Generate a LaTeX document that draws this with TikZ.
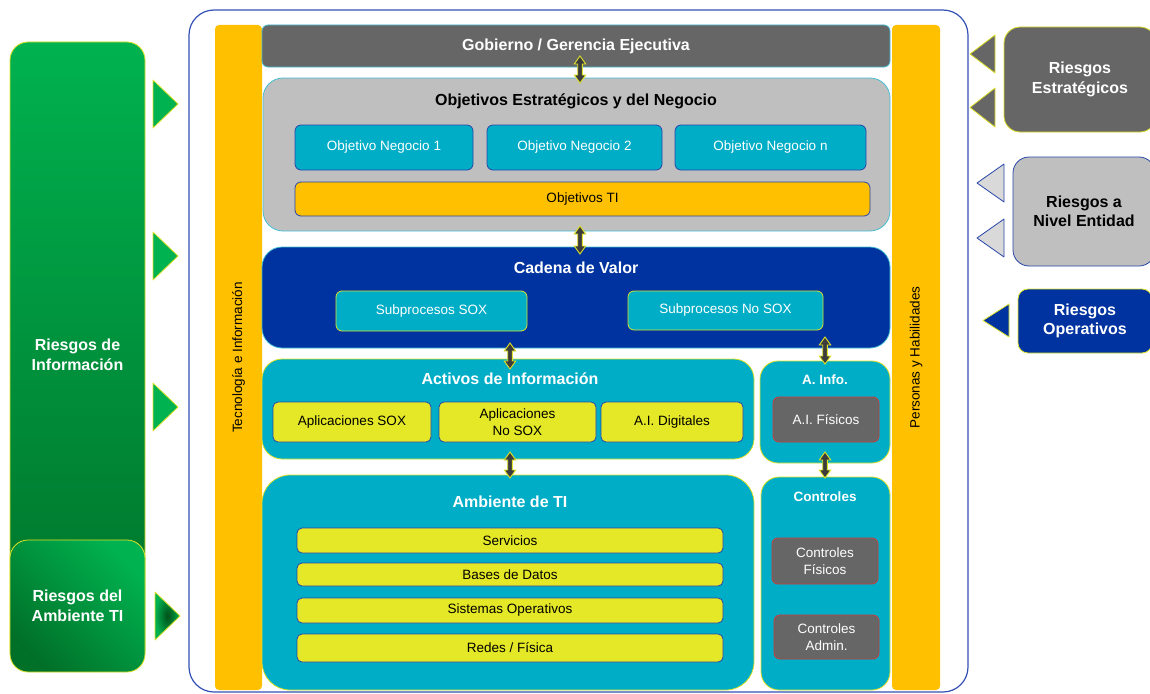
\documentclass[tikz,border=0pt]{standalone}
\usepackage{fontspec}
\setmainfont{Liberation Sans}
\usetikzlibrary{calc}

\definecolor{cTeal}{RGB}{0,173,198}
\definecolor{cNavy}{RGB}{0,51,160}
\definecolor{cGray}{RGB}{102,102,102}
\definecolor{cLight}{RGB}{191,191,191}
\definecolor{cLighter}{RGB}{217,217,217}
\definecolor{cGold}{RGB}{255,192,0}
\definecolor{cLime}{RGB}{228,232,38}
\definecolor{cEdgeY}{RGB}{222,226,40}
\definecolor{cEdgeB}{RGB}{40,70,170}
\definecolor{cEdgeT}{RGB}{70,190,210}
\definecolor{cEdgeR}{RGB}{200,60,60}
\definecolor{cFrame}{RGB}{50,80,180}
\definecolor{cGreen}{RGB}{0,178,80}
\definecolor{cGreenDk}{RGB}{0,112,40}
\definecolor{cGreenDeep}{RGB}{0,80,25}
\definecolor{cArrow}{RGB}{60,60,60}

\newcommand{\fT}{\fontsize{16}{19.5}\selectfont\bfseries}
\newcommand{\fS}{\fontsize{13.5}{16.5}\selectfont}
\newcommand{\fSB}{\fontsize{13.5}{16.5}\selectfont\bfseries}

\tikzset{
  base/.style={outer sep=0pt, inner sep=0pt, align=center},
  sz/.style 2 args={minimum width=#1pt, minimum height=#2pt},
  bar/.style={base, fill=cGold, rounded corners=4pt},
  panel/.style={base, line width=0.8pt, rounded corners=#1},
  tealpanel/.style={panel=#1, fill=cTeal, draw=cEdgeY},
  objbox/.style={base, fill=cTeal, draw=cEdgeB, line width=0.8pt, rounded corners=6pt, text=white, font=\fS},
  subbox/.style={base, fill=cTeal, draw=cEdgeY, line width=0.8pt, rounded corners=6pt, text=white, font=\fS},
  limebox/.style={base, fill=cLime, draw=cEdgeB, line width=0.8pt, rounded corners=5pt, text=black, font=\fS},
  graybox/.style={base, fill=cGray, draw=cEdgeR, line width=0.8pt, rounded corners=6pt, text=white, font=\fS},
  titletxt/.style={base, text=white, font=\fT},
  riskbox/.style={base, line width=0.8pt, rounded corners=16pt, font=\fT},
  greenbox/.style={base, line width=0.8pt, rounded corners=18pt, draw=cEdgeY, text=white, font=\fT},
  gtri/.style={fill=cGreen, draw=cEdgeY, line width=0.8pt, line join=round},
  % vertical two-headed block arrow from the upper point to the lower one
  biarrow/.style={fill=cArrow, draw=cEdgeY, line width=0.9pt, line join=miter,
    to path={let \p1=(\tikztostart), \p2=(\tikztotarget) in
      (\x1,\y1) -- (\x1+5.75pt,\y1-8pt) -- (\x1+2.3pt,\y1-8pt) -- (\x1+2.3pt,\y2+8pt)
      -- (\x1+5.75pt,\y2+8pt) -- (\x1,\y2) -- (\x1-5.75pt,\y2+8pt) -- (\x1-2.3pt,\y2+8pt)
      -- (\x1-2.3pt,\y1-8pt) -- (\x1-5.75pt,\y1-8pt) -- cycle}}
}

\begin{document}
\begin{tikzpicture}[x=1pt,y=-1pt]
\useasboundingbox (0,0) rectangle (1150,693);

% ---------- left: information risks ----------
\node[greenbox, sz={135}{626}, top color=cGreen, bottom color=cGreenDk] (rinfo) at (77.5,355) {Riesgos de\\Información};
\node[greenbox, sz={135}{132}, left color=cGreenDk, right color=cGreen, shading angle=135] (ramb) at (77.5,606) {Riesgos del\\Ambiente TI};

\draw[gtri] (153,80) -- (178,104) -- (153,128) -- cycle;
\draw[gtri] (153,232) -- (178,256) -- (153,280) -- cycle;
\draw[gtri] (153,383) -- (178,407) -- (153,431) -- cycle;
\draw[gtri, inner color=cGreenDeep, outer color=cGreen] (155,592) -- (180,616) -- (155,640) -- cycle;

% ---------- outer frame and side bars ----------
\node[base, sz={779}{682}, draw=cFrame, line width=1.2pt, rounded corners=25pt] (frame) at (578.5,351) {};
\node[bar, sz={47}{665}] (tecbar) at (238.5,357.5) {};
\node[base, rotate=90, font=\fS] (teclbl) at (tecbar.center) {Tecnología e Información};
\node[bar, sz={48}{665}] (perbar) at (916,357.5) {};
\node[base, rotate=90, font=\fS] (perlbl) at (perbar.center) {Personas y Habilidades};

% ---------- governance ----------
\node[panel=6pt, sz={628}{42}, fill=cGray, draw=cEdgeT, text=white, font=\fT] (gob) at (576,46) {Gobierno / Gerencia Ejecutiva};

% ---------- strategic objectives ----------
\node[panel=20pt, sz={627}{153}, fill=cLight, draw=cEdgeT] (obj) at (576.5,154.5) {};
\node[base, font=\fT] (objt) at (576,101) {Objetivos Estratégicos y del Negocio};
\node[objbox, sz={178}{45}] (on1) at (384,147.5) {Objetivo Negocio 1};
\node[objbox, sz={175}{45}] (on2) at (574.5,147.5) {Objetivo Negocio 2};
\node[objbox, sz={191}{45}] (onn) at (770.5,147.5) {Objetivo Negocio n};
\node[objbox, sz={575}{34}, fill=cGold, text=black] (oti) at (582.5,199) {Objetivos TI};

% ---------- value chain ----------
\node[panel=20pt, sz={628}{101}, fill=cNavy, draw=cEdgeT] (cad) at (576,297.5) {};
\node[titletxt] (cadt) at (576,268) {Cadena de Valor};
\node[subbox, sz={191}{40}] (sub1) at (431.5,311) {Subprocesos SOX};
\node[subbox, sz={195}{39}] (sub2) at (725.5,310.5) {Subprocesos No SOX};

% ---------- information assets ----------
\node[tealpanel=20pt, sz={492}{100}] (act) at (508,409) {};
\node[titletxt] (actt) at (510,379) {Activos de Información};
\node[limebox, sz={158}{40}] (aps) at (352,422) {Aplicaciones SOX};
\node[limebox, sz={157}{40}] (apn) at (517.5,422) {Aplicaciones\\No SOX};
\node[limebox, sz={142}{40}] (aid) at (672,422) {A.I. Digitales};

\node[tealpanel=18pt, sz={130}{102}] (ainfo) at (825,412) {};
\node[titletxt, font=\fSB] (ainfot) at (825,380) {A. Info.};
\node[graybox, sz={106}{45}] (aif) at (826,419.5) {A.I. Físicos};

% ---------- IT environment ----------
\node[tealpanel=28pt, sz={492}{215}] (amb) at (508,582.5) {};
\node[titletxt] (ambt) at (510,502) {Ambiente de TI};
\node[limebox, sz={426}{25}] (serv) at (510,540.5) {Servicios};
\node[limebox, sz={426}{23}] (bd) at (510,574.5) {Bases de Datos};
\node[limebox, sz={426}{25}] (so) at (510,610.5) {Sistemas Operativos};
\node[limebox, sz={426}{28}] (red) at (510,648) {Redes / Física};

\node[tealpanel=18pt, sz={129}{213}] (ctl) at (825.5,583.5) {};
\node[titletxt, font=\fSB] (ctlt) at (825,497) {Controles};
\node[graybox, sz={106}{46}] (cf) at (825,561) {Controles\\Físicos};
\node[graybox, sz={105}{44}] (ca) at (826.5,637) {Controles\\Admin.};

% ---------- links between layers ----------
\draw[biarrow] ($(gob.south)+(4,-11)$) to ($(obj.north)+(4,5)$);
\draw[biarrow] ($(obj.south)+(3.5,-5)$) to ($(cad.north)+(4,7)$);
\draw[biarrow] ($(act.north |- cad.south)+(2,-5)$) to ($(act.north)+(2,10)$);
\draw[biarrow] ($(act.south)+(2,-7)$) to ($(amb.north)+(2,3)$);
\draw[biarrow] ($(ainfo.north |- cad.south)+(0,-11)$) to ($(ainfo.north)+(0,3)$);
\draw[biarrow] ($(ainfo.south)+(0,-11)$) to ($(ctl.north)+(0,1)$);

% ---------- right: business risks ----------
\node[riskbox, sz={152}{105}, fill=cGray, draw=cEdgeY, text=white] (rest) at (1080,79.5) {Riesgos\\Estratégicos};
\node[riskbox, sz={142}{109}, fill=cLight, draw=cEdgeB, text=black] (rent) at (1084,211.5) {Riesgos a\\Nivel Entidad};
\node[riskbox, sz={134}{64}, rounded corners=10pt, fill=cNavy, draw=cEdgeY, text=white] (rop) at (1085,321) {Riesgos\\Operativos};

\draw[fill=cGray, draw=cEdgeY, line width=0.8pt, line join=round] (995,35) -- (970,54) -- (995,73) -- cycle;
\draw[fill=cGray, draw=cEdgeY, line width=0.8pt, line join=round] (995,88) -- (970,107.5) -- (995,127) -- cycle;
\draw[fill=cLighter, draw=cEdgeB, line width=0.8pt, line join=round] (1004,164) -- (977,183) -- (1004,202) -- cycle;
\draw[fill=cLighter, draw=cEdgeB, line width=0.8pt, line join=round] (1004,219) -- (977,238) -- (1004,257) -- cycle;
\draw[fill=cNavy, draw=cEdgeY, line width=0.8pt, line join=round] (1009,304) -- (983,320.5) -- (1009,337) -- cycle;
\end{tikzpicture}
\end{document}
